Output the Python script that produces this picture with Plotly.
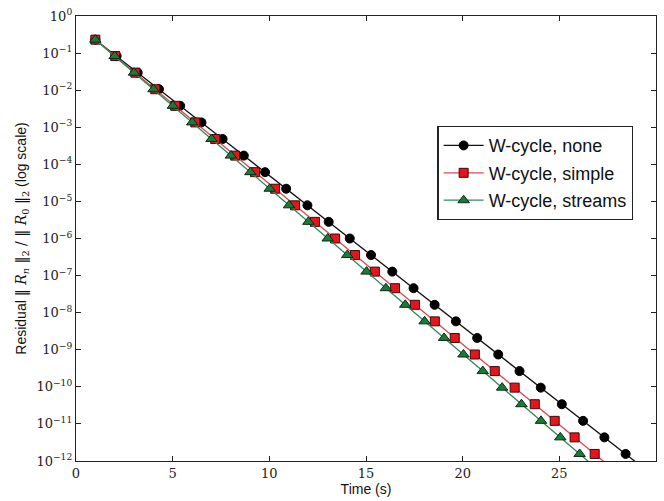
import plotly.graph_objects as go

# Residual history of the multigrid solver for three stream strategies
residual = [2.3e-1, 8.3e-2, 2.96e-2, 1.06e-2, 3.78e-3, 1.35e-3, 4.82e-4, 1.72e-4,
            6.15e-5, 2.20e-5, 7.85e-6, 2.81e-6, 1.00e-6, 3.58e-7, 1.28e-7, 4.57e-8,
            1.63e-8, 5.83e-9, 2.08e-9, 7.45e-10, 2.66e-10, 9.51e-11, 3.40e-11,
            1.21e-11, 4.34e-12, 1.55e-12, 5.53e-13]

time_none = [1.00, 2.10, 3.19, 4.29, 5.39, 6.49, 7.58, 8.68, 9.78, 10.87, 11.97,
             13.07, 14.16, 15.26, 16.36, 17.46, 18.55, 19.65, 20.75, 21.84, 22.94,
             24.04, 25.13, 26.23, 27.33, 28.43, 29.52]
time_simple = [1.00, 2.03, 3.07, 4.10, 5.13, 6.17, 7.20, 8.23, 9.26, 10.30, 11.33,
               12.36, 13.40, 14.43, 15.46, 16.50, 17.53, 18.56, 19.59, 20.63, 21.66,
               22.69, 23.73, 24.76, 25.79, 26.83, 27.86]
time_streams = [1.00, 2.00, 3.00, 4.01, 5.01, 6.01, 7.01, 8.01, 9.02, 10.02, 11.02,
                12.02, 13.02, 14.03, 15.03, 16.03, 17.03, 18.03, 19.04, 20.04, 21.04,
                22.04, 23.04, 24.05, 25.05, 26.05, 27.05]

series_names = ["W-cycle, none", "W-cycle, simple", "W-cycle, streams"]

y_tick_values = [1e0, 1e-1, 1e-2, 1e-3, 1e-4, 1e-5, 1e-6, 1e-7, 1e-8, 1e-9,
                 1e-10, 1e-11, 1e-12]
y_tick_labels = ["10<sup>0</sup>", "10<sup>−1</sup>", "10<sup>−2</sup>",
                 "10<sup>−3</sup>", "10<sup>−4</sup>", "10<sup>−5</sup>",
                 "10<sup>−6</sup>", "10<sup>−7</sup>", "10<sup>−8</sup>",
                 "10<sup>−9</sup>", "10<sup>−10</sup>", "10<sup>−11</sup>",
                 "10<sup>−12</sup>"]
x_tick_values = [0, 5, 10, 15, 20, 25, 30]

fig = go.Figure()

fig.add_trace(go.Scatter(
    x=time_none, y=residual, name=series_names[0], mode="lines+markers",
    legendgroup="none",
    line=dict(color="#111111", width=1.3),
    marker=dict(symbol="circle", size=9, color="#000000",
                line=dict(color="#000000", width=1)),
))
fig.add_trace(go.Scatter(
    x=time_simple, y=residual, name=series_names[1], mode="lines+markers",
    legendgroup="simple",
    line=dict(color="#e0474c", width=1.3),
    marker=dict(symbol="square", size=9, color="#e8141c",
                line=dict(color="#3a0a0a", width=1)),
))
fig.add_trace(go.Scatter(
    x=time_streams, y=residual, name=series_names[2], mode="lines+markers",
    legendgroup="streams",
    line=dict(color="#2e8b57", width=1.3),
    marker=dict(symbol="triangle-up", size=10, color="#1b7a3a",
                line=dict(color="#0a2a14", width=1)),
))

tick_font = dict(family="DejaVu Serif, Liberation Serif, serif", size=13, color="#222222")
label_font = dict(family="Liberation Sans, Arial, sans-serif", size=14, color="#111111")

math = '<span style="font-family:DejaVu Serif, serif">'
y_title = ("Residual " + math + "‖ <i>R<sub>n</sub></i> ‖<sub>2</sub> / "
           "‖ <i>R</i><sub>0</sub> ‖<sub>2</sub></span> (log scale)")

fig.update_layout(
    width=664, height=501,
    margin=dict(l=76, r=7, t=12, b=39),
    paper_bgcolor="white", plot_bgcolor="white",
    showlegend=True,
    legend=dict(
        x=0.623, y=0.753, xanchor="left", yanchor="top",
        bgcolor="white", bordercolor="#222222", borderwidth=1.3,
        font=dict(family="Liberation Sans, Arial, sans-serif", size=18, color="#111111"),
        itemwidth=40, tracegroupgap=1,
    ),
    xaxis=dict(
        range=[0, 30], tickvals=x_tick_values,
        showgrid=False, zeroline=False,
        showline=True, linecolor="#222222", linewidth=1.4, mirror="ticks",
        ticks="inside", ticklen=5, tickcolor="#222222",
        tickfont=tick_font,
        title=dict(text="Time (s)", font=label_font, standoff=3),
    ),
    yaxis=dict(
        type="log", range=[-12, 0],
        tickvals=y_tick_values, ticktext=y_tick_labels,
        showgrid=False, zeroline=False,
        showline=True, linecolor="#222222", linewidth=1.4, mirror="ticks",
        ticks="inside", ticklen=5, tickcolor="#222222",
        tickfont=tick_font,
        title=dict(text=y_title, font=label_font, standoff=6),
    ),
)

fig.write_html("out.html")
